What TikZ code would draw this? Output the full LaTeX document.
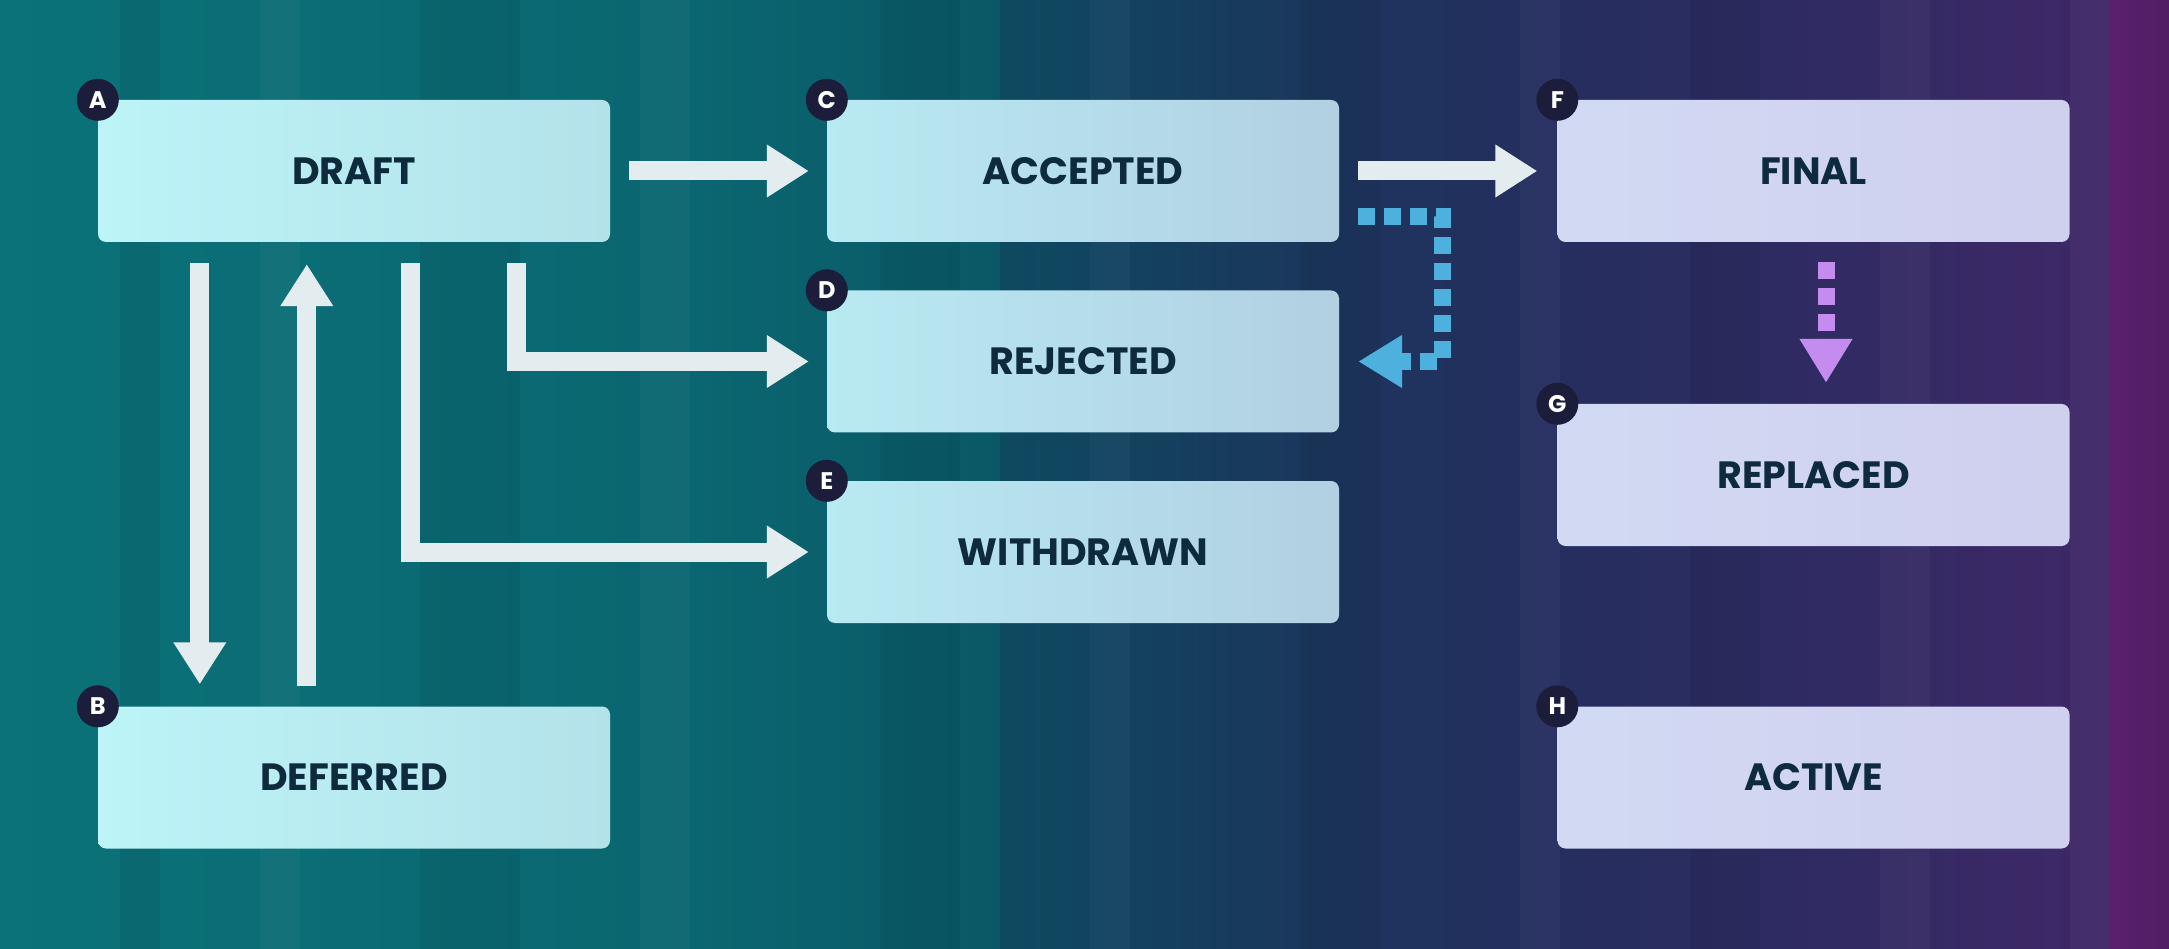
\documentclass[tikz,border=0pt]{standalone}
\usepackage{fontspec}
\setmainfont{Poppins}
\usetikzlibrary{arrows.meta}
\definecolor{bg1}{HTML}{0B7279}
\definecolor{bg2}{HTML}{0A6670}
\definecolor{bg3}{HTML}{0A5867}
\definecolor{bg3b}{HTML}{0D4A60}
\definecolor{bg4}{HTML}{183A5D}
\definecolor{bg5}{HTML}{232F5E}
\definecolor{bg6}{HTML}{2F2B62}
\definecolor{bg7}{HTML}{3F2868}
\definecolor{bg8}{HTML}{5A206F}
\definecolor{cyanL}{HTML}{BCF4F8}
\definecolor{cyanR}{HTML}{B4E2EA}
\definecolor{cyanM}{HTML}{B8EAF2}
\definecolor{cyanN}{HTML}{B2D0E2}
\definecolor{lavL}{HTML}{D2DAF3}
\definecolor{lavR}{HTML}{CFCFEE}
\definecolor{ink}{HTML}{0E2A3D}
\definecolor{badgebg}{HTML}{1C1D3B}
\definecolor{arrowc}{HTML}{E3ECEE}
\definecolor{blued}{HTML}{4DB0DD}
\definecolor{purpled}{HTML}{C48CEE}
\tikzset{
  box/.style={rectangle, rounded corners=8pt, minimum width=512pt, minimum height=142pt,
    inner sep=0pt, text=ink, font=\bfseries\fontsize{38}{40}\selectfont},
  boxleft/.style={box, left color=cyanL, right color=cyanR},
  boxmid/.style={box, left color=cyanM, right color=cyanN},
  boxright/.style={box, left color=lavL, right color=lavR},
  badge/.style={circle, fill=badgebg, minimum size=42pt, inner sep=0pt, text=white,
    font=\bfseries\fontsize{24}{24}\selectfont},
  arr/.style={draw=arrowc, line width=19pt, line cap=butt, line join=miter,
    -{Triangle[width=50pt,length=42pt]}},
  darr/.style={line width=17pt, line cap=butt, line join=miter, dash pattern=on 17pt off 9pt,
    -{Triangle[width=50pt,length=44pt]}},
  bandd/.style={opacity=0.06, fill=black},
  bandl/.style={opacity=0.03, fill=white}
}
\begin{document}
\begin{tikzpicture}[x=1pt,y=-1pt]
% background
\useasboundingbox (0,0) rectangle (2169,949);
\shade[left color=bg1, right color=bg2] (0,0) rectangle (701,949);
\shade[left color=bg2, right color=bg3] (700,0) rectangle (1001,949);
\shade[left color=bg3b, right color=bg4] (1000,0) rectangle (1251,949);
\shade[left color=bg4, right color=bg5] (1250,0) rectangle (1501,949);
\shade[left color=bg5, right color=bg6] (1500,0) rectangle (1801,949);
\shade[left color=bg6, right color=bg7] (1800,0) rectangle (2111,949);
\shade[left color=bg8, right color=bg8!90!black] (2110,0) rectangle (2169,949);
% vertical banding
\path[bandd] (120,0) rectangle (160,949);
\path[bandl] (260,0) rectangle (300,949);
\path[bandd] (420,0) rectangle (520,949);
\path[bandl] (640,0) rectangle (690,949);
\path[bandd] (880,0) rectangle (960,949);
\path[bandl] (1090,0) rectangle (1130,949);
\path[bandd] (1300,0) rectangle (1380,949);
\path[bandl] (1520,0) rectangle (1560,949);
\path[bandd] (1690,0) rectangle (1760,949);
\path[bandl] (1880,0) rectangle (1930,949);
\path[bandl] (2070,0) rectangle (2110,949);

% boxes
\node[boxleft]  (A) at (354,171)    {DRAFT};
\node[boxmid]   (C) at (1083,171)   {ACCEPTED};
\node[boxright] (F) at (1813.5,171) {FINAL};
\node[boxmid]   (D) at (1083,361.5) {REJECTED};
\node[boxmid]   (E) at (1083,552)   {WITHDRAWN};
\node[boxright] (G) at (1813.5,475) {REPLACED};
\node[boxleft]  (B) at (354,777.5)  {DEFERRED};
\node[boxright] (H) at (1813.5,777.5) {ACTIVE};

% badges
\node[badge] (bA) at (A.north west) {A};
\node[badge] (bB) at (B.north west) {B};
\node[badge] (bC) at (C.north west) {C};
\node[badge] (bD) at (D.north west) {D};
\node[badge] (bE) at (E.north west) {E};
\node[badge] (bF) at (F.north west) {F};
\node[badge] (bG) at (G.north west) {G};
\node[badge] (bH) at (H.north west) {H};

% connectors
\draw[arr] ([xshift=19pt]A.east) -- ([xshift=-18pt]C.west);
\draw[arr] ([xshift=19pt]C.east) -- ([xshift=-20pt]F.west);
\draw[arr] ([xshift=102pt,yshift=-21pt]A.south west) -- ([xshift=102pt,yshift=22pt]B.north west);
\draw[arr] ([xshift=209pt,yshift=20pt]B.north west) -- ([xshift=209pt,yshift=-22pt]A.south west);
\draw[arr] ([xshift=419pt,yshift=-21pt]A.south west) |- ([xshift=-18pt]D.west);
\draw[arr] ([xshift=313pt,yshift=-21pt]A.south west) |- ([xshift=-18pt]E.west);
\draw[darr, draw=blued] ([xshift=19pt,yshift=-46pt]C.east) -- ++(84,0) |- ([xshift=19pt]D.east);
\draw[darr, draw=purpled] ([xshift=12.5pt,yshift=-20pt]F.south) -- ([xshift=12.5pt,yshift=21pt]G.north);
\end{tikzpicture}
\end{document}
